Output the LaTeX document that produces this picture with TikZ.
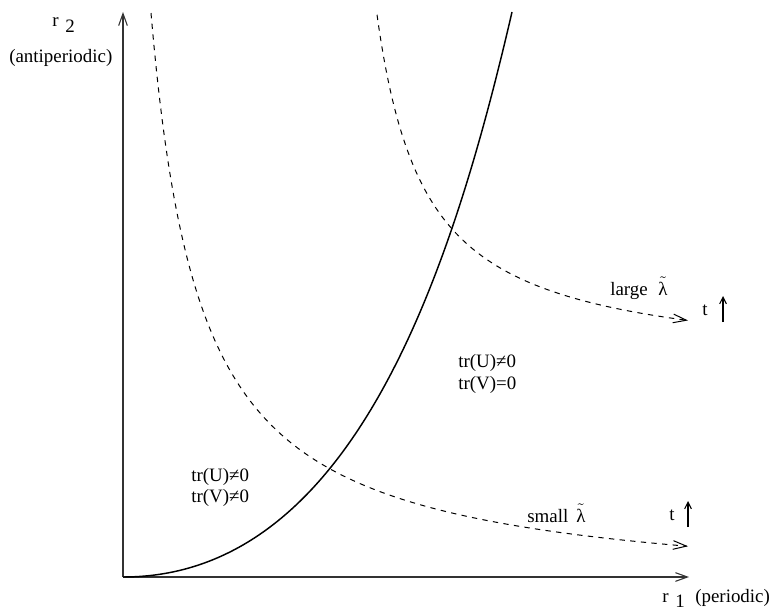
\documentclass[tikz,border=0pt]{standalone}
\usepackage{fontspec}
\setmainfont{Liberation Serif}
\usetikzlibrary{arrows.meta}
\tikzset{
  lbl/.style={inner sep=0pt, anchor=base west, font=\fontsize{14.2pt}{16pt}\selectfont},
  axis/.style={line width=0.8pt, black!80, -{Straight Barb[length=9pt,width=6.5pt]}},
  solidcurve/.style={line width=1.1pt, black},
  dashcurve/.style={line width=0.75pt, black, dash pattern=on 4pt off 4pt, -{Straight Barb[length=10pt,width=6.5pt]}},
  tarrow/.style={line width=0.8pt, black, -{Straight Barb[length=5pt,width=5pt]}}
}
\newcommand{\tlam}{$\tilde{\mbox{λ}}$}
\begin{document}
\begin{tikzpicture}[x=0.75pt,y=-0.75pt]
\useasboundingbox (0,0) rectangle (773,610);
% axes
\coordinate (O) at (123,577);
\coordinate (ytop) at (123,12);
\coordinate (xend) at (689,577);
\draw[axis] (O) -- (ytop);
\draw[axis] (O) -- (xend);
% axis labels
\node[lbl] (r2) at (52,27) {r};
\node[lbl] (r2s) at (65,33) {2};
\node[lbl] (anti) at (9,62) {(antiperiodic)};
\node[lbl] (r1) at (662,602) {r};
\node[lbl] (r1s) at (675,607) {1};
\node[lbl] (per) at (695,602) {(periodic)};
% solid curve
\draw[solidcurve] (O) .. controls (350,577) and (450,280) .. (512,12);
% small lambda dashed curve (hyperbola)
\draw[dashcurve] plot[domain=151:688, samples=220, smooth] (\x, {595.7-290.17/((\x-101.2)/100)});
% large lambda dashed curve (hyperbola)
\draw[dashcurve] plot[domain=377:688, samples=160, smooth] (\x, {368.5-172.99/((\x-328.1)/100)});
% region labels
\node[lbl] (uL) at (191,481) {tr(U)≠0};
\node[lbl] (vL) at (191,502) {tr(V)≠0};
\node[lbl] (uR) at (458,367) {tr(U)≠0};
\node[lbl] (vR) at (458,389) {tr(V)=0};
% lambda labels
\node[lbl] (large) at (610,295) {large\hspace{8pt}\tlam};
\node[lbl] (small) at (527,522) {small\hspace{6pt}\tlam};
% t arrows
\node[lbl] (t1) at (702,315) {t};
\coordinate (t1a) at (723,322);
\coordinate (t1b) at (723,296);
\draw[tarrow] (t1a) -- (t1b);
\node[lbl] (t2) at (669,520) {t};
\coordinate (t2a) at (688,527);
\coordinate (t2b) at (688,501);
\draw[tarrow] (t2a) -- (t2b);
\end{tikzpicture}
\end{document}
